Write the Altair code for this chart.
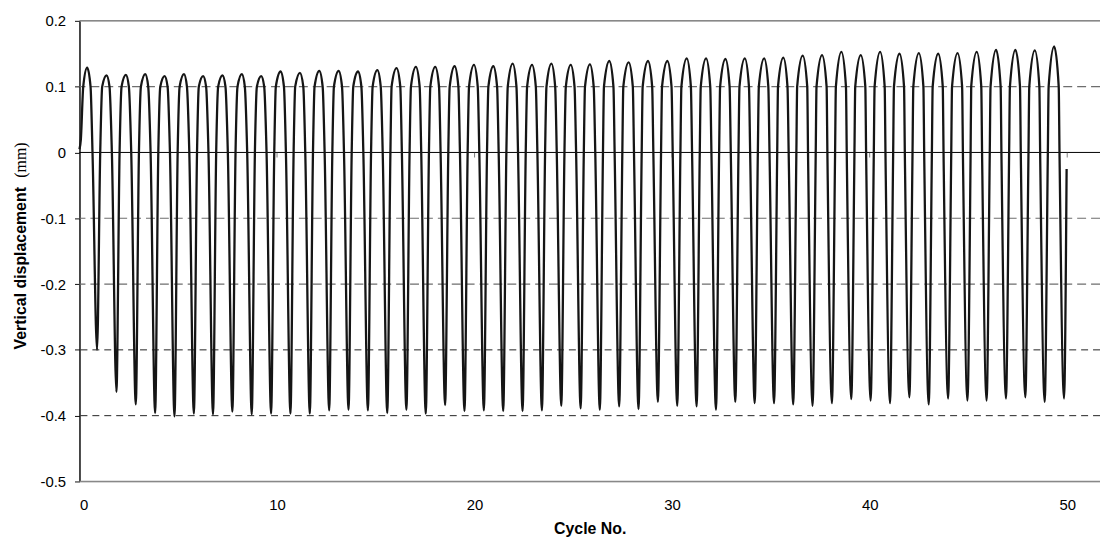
import altair as alt
import pandas as pd

# ---- values ----
peak_x = [0.39, 1.37, 2.35, 3.33, 4.31, 5.29, 6.26, 7.24, 8.22, 9.20, 10.18, 11.16, 12.14,
          13.12, 14.10, 15.08, 16.05, 17.03, 18.01, 18.99, 19.97, 20.95, 21.93, 22.91, 23.89,
          24.87, 25.84, 26.82, 27.80, 28.78, 29.76, 30.74, 31.72, 32.70, 33.68, 34.66, 35.63,
          36.61, 37.59, 38.57, 39.55, 40.53, 41.51, 42.49, 43.47, 44.45, 45.42, 46.40, 47.38,
          48.36, 49.34]
peak_v = [0.129, 0.117, 0.118, 0.119, 0.116, 0.119, 0.116, 0.117, 0.119, 0.116, 0.123, 0.121,
          0.124, 0.124, 0.123, 0.125, 0.128, 0.130, 0.130, 0.131, 0.133, 0.131, 0.135, 0.133,
          0.135, 0.133, 0.134, 0.139, 0.137, 0.139, 0.139, 0.143, 0.143, 0.142, 0.143, 0.143,
          0.144, 0.147, 0.148, 0.153, 0.148, 0.153, 0.150, 0.151, 0.150, 0.151, 0.153, 0.156,
          0.156, 0.155, 0.161]
# where each rising / falling flank crosses the 0.1 gridline
rise01_x = [0.19, 1.15, 2.13, 3.11, 4.09, 5.07, 6.04, 7.02, 8.00, 8.98, 9.94, 10.92, 11.90,
            12.88, 13.86, 14.84, 15.80, 16.78, 17.76, 18.74, 19.72, 20.70, 21.68, 22.66, 23.64,
            24.62, 25.59, 26.55, 27.53, 28.51, 29.49, 30.47, 31.45, 32.43, 33.41, 34.39, 35.36,
            36.33, 37.31, 38.29, 39.27, 40.25, 41.23, 42.21, 43.19, 44.17, 45.14, 46.12, 47.10,
            48.08, 49.06]
fall01_x = [0.56, 1.52, 2.50, 3.48, 4.46, 5.44, 6.41, 7.39, 8.37, 9.35, 10.35, 11.33, 12.31,
            13.29, 14.27, 15.25, 16.24, 17.22, 18.20, 19.18, 20.16, 21.14, 22.12, 23.10, 24.08,
            25.06, 26.03, 27.03, 28.01, 28.99, 29.97, 30.95, 31.93, 32.91, 33.89, 34.87, 35.84,
            36.84, 37.82, 38.80, 39.78, 40.76, 41.74, 42.72, 43.70, 44.68, 45.65, 46.63, 47.61,
            48.59, 49.57]
shoulder_v = 0.1
# where the falling / rising flanks cross zero
down_x = [0.66, 1.64, 2.62, 3.60, 4.58, 5.56, 6.53, 7.51, 8.49, 9.47, 10.45, 11.43, 12.41,
          13.39, 14.37, 15.35, 16.32, 17.30, 18.28, 19.26, 20.24, 21.22, 22.20, 23.18, 24.16,
          25.14, 26.11, 27.09, 28.07, 29.05, 30.03, 31.01, 31.99, 32.97, 33.95, 34.93, 35.90,
          36.88, 37.86, 38.84, 39.82, 40.80, 41.78, 42.76, 43.74, 44.72, 45.69, 46.67, 47.65,
          48.63, 49.61]
trough_x = [0.89, 1.87, 2.85, 3.83, 4.81, 5.79, 6.76, 7.74, 8.72, 9.70, 10.68, 11.66, 12.64,
            13.62, 14.60, 15.58, 16.55, 17.53, 18.51, 19.49, 20.47, 21.45, 22.43, 23.41, 24.39,
            25.37, 26.34, 27.32, 28.30, 29.28, 30.26, 31.24, 32.22, 33.20, 34.18, 35.16, 36.13,
            37.11, 38.09, 39.07, 40.05, 41.03, 42.01, 42.99, 43.97, 44.95, 45.92, 46.90, 47.88,
            48.86, 49.84]
trough_v = [-0.300, -0.364, -0.383, -0.396, -0.401, -0.397, -0.398, -0.394, -0.398, -0.397,
            -0.397, -0.397, -0.392, -0.391, -0.392, -0.396, -0.391, -0.397, -0.384, -0.393,
            -0.392, -0.393, -0.393, -0.392, -0.385, -0.389, -0.391, -0.386, -0.390, -0.379,
            -0.385, -0.386, -0.391, -0.379, -0.381, -0.381, -0.383, -0.385, -0.381, -0.375,
            -0.377, -0.381, -0.372, -0.383, -0.374, -0.377, -0.377, -0.374, -0.372, -0.379,
            -0.374]
up_x = [1.05, 2.03, 3.01, 3.99, 4.97, 5.95, 6.92, 7.90, 8.88, 9.86, 10.84, 11.82, 12.80,
        13.78, 14.76, 15.74, 16.71, 17.69, 18.67, 19.65, 20.63, 21.61, 22.59, 23.57, 24.55,
        25.53, 26.50, 27.48, 28.46, 29.44, 30.42, 31.40, 32.38, 33.36, 34.34, 35.32, 36.29,
        37.27, 38.25, 39.23, 40.21, 41.19, 42.17, 43.15, 44.13, 45.11, 46.08, 47.06, 48.04,
        49.02]
start_x = [0.0, 0.07]
start_v = [0.005, 0.02]
end_x = [49.97]
end_v = [-0.025]

x_ticks = [0, 10, 20, 30, 40, 50]
y_ticks = [0.2, 0.1, 0, -0.1, -0.2, -0.3, -0.4, -0.5]
gray_dashed_levels = [0.1, -0.1, -0.2]
dark_dashed_levels = [-0.3, -0.4]
border_levels = [0.2, -0.5]

# ---- build the line table ----
rows = list(zip(start_x, start_v))
for k in range(len(peak_x)):
    rows.append((rise01_x[k], shoulder_v))
    rows.append((peak_x[k], peak_v[k]))
    rows.append((fall01_x[k], shoulder_v))
    rows.append((down_x[k], 0.0))
    rows.append((trough_x[k], trough_v[k]))
    if k < len(up_x):
        rows.append((up_x[k], 0.0))
rows += list(zip(end_x, end_v))
df = pd.DataFrame(rows, columns=["cycle", "disp"])

FONT = "Liberation Sans"
x_scale = alt.Scale(domain=[0, 51.66], nice=False, zero=False)
y_scale = alt.Scale(domain=[-0.5, 0.2], nice=False, zero=False)

x_axis = alt.Axis(values=x_ticks, ticks=False, tickSize=0, domain=False, grid=False,
                  labelFont=FONT, labelFontSize=15, labelColor="black", labelPadding=16,
                  format="d", title="Cycle No.", titleFont=FONT, titleFontSize=16,
                  titleFontWeight="bold", titleColor="black", titlePadding=8)
y_axis = alt.Axis(values=y_ticks, grid=False, domainColor="#111", domainWidth=1.5,
                  tickColor="#111", tickSize=5, tickWidth=1, labelFont=FONT,
                  labelFontSize=15, labelColor="black", labelPadding=9,
                  labelExpr="datum.value == 0 ? '0' : replace(format(datum.value, '.1f'), '\u2212', '-')",
                  title=None)

X = lambda: alt.X("cycle:Q", scale=x_scale, axis=x_axis)
Y = lambda: alt.Y("disp:Q", scale=y_scale, axis=y_axis)

gray_dashed = alt.Chart(pd.DataFrame({"disp": gray_dashed_levels})).mark_rule(
    color="#6e6e6e", strokeDash=[9, 5], strokeWidth=1.2
).encode(y=Y())

dark_dashed = alt.Chart(pd.DataFrame({"disp": dark_dashed_levels})).mark_rule(
    color="#222", strokeDash=[7, 5], strokeWidth=1
).encode(y=Y())

borders = alt.Chart(pd.DataFrame({"disp": border_levels})).mark_rule(
    color="#888", strokeWidth=1.5
).encode(y=Y())

zero_line = alt.Chart(pd.DataFrame({"disp": [0.0]})).mark_rule(
    color="black", strokeWidth=1
).encode(y=Y())

zero_ticks = alt.Chart(pd.DataFrame({"cycle": x_ticks[1:], "disp": [0.0] * 5})).mark_tick(
    orient="vertical", size=5, thickness=1, yOffset=2.5, color="#444"
).encode(x=X(), y=Y())

line = alt.Chart(df).mark_line(
    color="#151515", strokeWidth=2.3, interpolate="monotone"
).encode(x=X(), y=Y())

one = pd.DataFrame({"a": [0]})
ytitle = alt.Chart(one).mark_text(
    angle=270, align="left", baseline="middle", font=FONT, fontSize=16,
    fontWeight="bold", color="black"
).encode(x=alt.value(-59), y=alt.value(331), text=alt.value("Vertical displacement"))
yunit = alt.Chart(one).mark_text(
    angle=270, align="left", baseline="middle", font="Liberation Serif", fontSize=16,
    color="black"
).encode(x=alt.value(-59), y=alt.value(158), text=alt.value("(mm)"))

chart = alt.layer(gray_dashed, dark_dashed, borders, zero_line, zero_ticks, line,
                  ytitle, yunit).properties(
    width=1028, height=464,
    autosize=alt.AutoSizeParams(type="none"),
    padding={"left": 72, "top": 11, "right": 0, "bottom": 54},
).configure_view(stroke=None).configure(background="white")

chart.save("out.html", embed_options={"renderer": "svg", "actions": False})
